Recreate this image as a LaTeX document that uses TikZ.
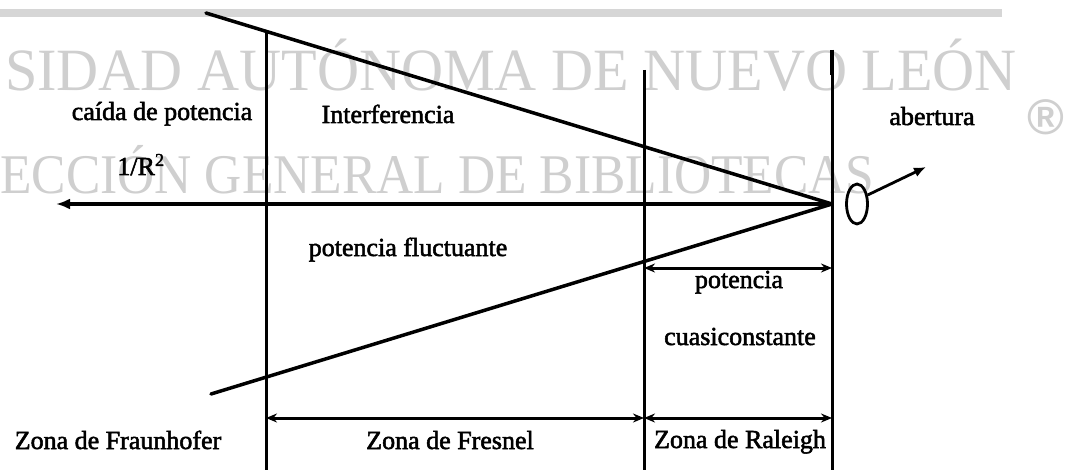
\documentclass[tikz,border=0pt]{standalone}
\usepackage{fontspec}
\setmainfont{Liberation Serif}
\newfontfamily\labelfont[FakeBold=2]{Liberation Serif}
\newfontfamily\marksans{Liberation Sans}
\usetikzlibrary{arrows.meta,shapes.geometric}
\definecolor{wmgray}{HTML}{CFCFCF}
\definecolor{bargray}{HTML}{D6D6D6}
\tikzset{
  lbl/.style={inner sep=0pt, anchor=base, font=\labelfont\fontsize{26}{28}\selectfont},
  wmark/.style={inner sep=0pt, anchor=base west, text=wmgray},
  mainline/.style={line width=3.5pt, line cap=round},
  vline/.style={line width=3pt},
  dimarrow/.style={line width=3pt, {Stealth[length=11pt,width=9pt]}-{Stealth[length=11pt,width=9pt]}},
}
\begin{document}
\begin{tikzpicture}[x=1pt,y=-1pt]
\clip (0,0) rectangle (1067,470);
\fill[white] (0,0) rectangle (1067,470);
% scan artefacts: grey bar and watermark
\fill[bargray] (0,9.5) rectangle (1002,17.5);
\node[wmark] (wm1) at (5,91) {\fontsize{60}{60}\selectfont\scalebox{0.97}[1]{SIDAD AUTÓNOMA DE NUEVO LEÓN}};
\node[wmark] (wm2) at (0,194) {\fontsize{56}{56}\selectfont\scalebox{0.92}[1]{ECCIÓN GENERAL DE BIBLIOTECAS}};
\node[inner sep=0pt, text=wmgray] (reg) at (1046,117) {\marksans\bfseries\fontsize{50}{50}\selectfont ®};
% key points
\coordinate (apex) at (832,204);
\coordinate (tl) at (206,13);
\coordinate (bl) at (211,394);
\coordinate (ltip) at (56,204);
\coordinate (v1t) at (266,31);
\coordinate (v1b) at (266,472);
\coordinate (v2t) at (644,70);
\coordinate (v2b) at (644,472);
\coordinate (v3t) at (832,50);
\coordinate (v3m) at (832,75);
\coordinate (v3b) at (832,472);
\coordinate (qa) at (644,268);
\coordinate (qb) at (832,268);
\coordinate (za) at (266,418);
\coordinate (zb) at (644,418);
\coordinate (zc) at (832,418);
% vertical zone borders
\draw[vline] (v1t) -- (v1b);
\draw[vline] (v2t) -- (v2b);
\draw[vline] (v3t) -- (v3b);
\draw[line width=4pt] (v3t) -- (v3m);
% beam lines
\draw[mainline] (tl) -- (apex);
\draw[mainline] (bl) -- (apex);
\draw[line width=3.2pt, -{Latex[length=14pt,width=11pt]}] (apex) -- (ltip);
% aperture
\node[draw, ellipse, line width=2.8pt, minimum width=21pt, minimum height=40pt, inner sep=0pt] (ap) at (857,204) {};
\coordinate (ae) at (926,167);
\draw[line width=2.8pt, -{Latex[length=12pt,width=10pt]}] (ap.40) -- (ae);
% dimension arrows
\draw[dimarrow] (qa) -- (qb);
\draw[dimarrow] (za) -- (zb);
\draw[dimarrow] (zb) -- (zc);
% labels
\node[lbl] (caida) at (162,120) {caída de potencia};
\node[lbl] (invr) at (141,175) {1/R\textsuperscript{2}};
\node[lbl] (interf) at (388,123) {Interferencia};
\node[lbl] (abert) at (932,125) {abertura};
\node[lbl] (fluct) at (408,256) {potencia fluctuante};
\node[lbl] (pot) at (739,288) {potencia};
\node[lbl] (cuasi) at (740,345) {cuasiconstante};
\node[lbl] (fraun) at (118,449) {Zona de Fraunhofer};
\node[lbl] (fres) at (450,449) {Zona de Fresnel};
\node[lbl] (rale) at (740,448) {Zona de Raleigh};
\end{tikzpicture}
\end{document}
